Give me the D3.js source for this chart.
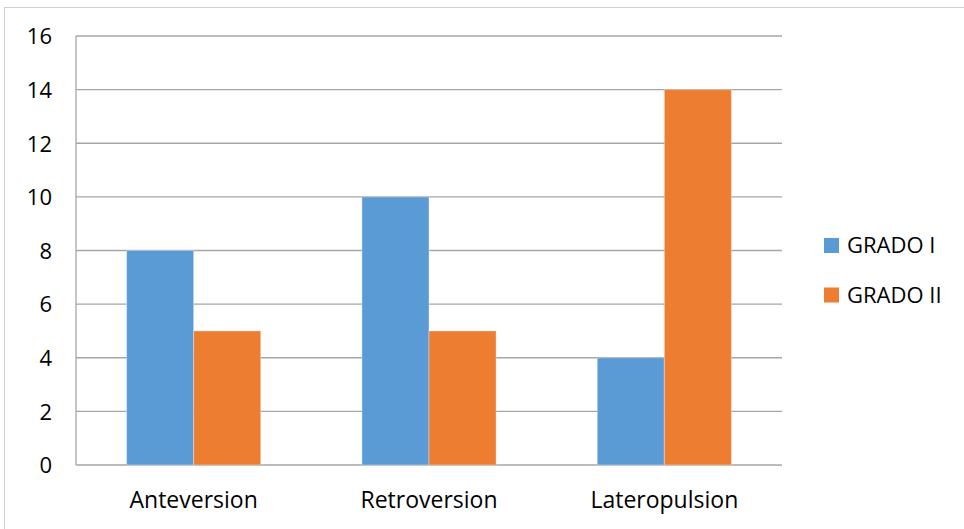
<!DOCTYPE html>
<html>
<head>
<meta charset="utf-8">
<script src="https://cdn.jsdelivr.net/npm/d3@7"></script>
<style>
  body { margin: 0; background: #fff; }
  text { font-family: "Open Sans", Lato, sans-serif; fill: #000; }
</style>
</head>
<body>
<script>
// data
var CATEGORIES = ["Anteversion", "Retroversion", "Lateropulsion"];
var SERIES = ["GRADO I", "GRADO II"];
var GRADO_I = [8, 10, 4];
var GRADO_II = [5, 5, 14];
var Y_TICKS = [0, 2, 4, 6, 8, 10, 12, 14, 16];
var COLORS = ["#5B9BD5", "#ED7D31"];

var MARGINS = {top: 36, bottom: 64, left: 76, right: 182};
var W = 964, H = 529;

var svg = d3.select("body").append("svg");
svg.attr("width", W).attr("height", H);

// outer frame of the chart area
svg.append("rect")
    .attr("x", 4.5).attr("y", 7.5)
    .attr("width", W + 10).attr("height", H)
    .attr("fill", "none").attr("stroke", "#d0d0d0").attr("stroke-width", 1);

var xScale = d3.scaleBand().domain(CATEGORIES)
    .range([MARGINS.left, W - MARGINS.right])
    .paddingInner(0.43).paddingOuter(0.215);
var subScale = d3.scaleBand().domain(SERIES).range([0, xScale.bandwidth()]);
var yScale = d3.scaleLinear().domain([0, 16]).range([H - MARGINS.bottom, MARGINS.top]);

// gridlines
svg.append("g").selectAll("line").data(Y_TICKS).enter().append("line")
    .attr("x1", MARGINS.left).attr("x2", W - MARGINS.right)
    .attr("y1", function (d) { return yScale(d); })
    .attr("y2", function (d) { return yScale(d); })
    .attr("stroke", "#a6a6a6").attr("stroke-width", 1.3);

// left axis line
svg.append("line")
    .attr("x1", MARGINS.left).attr("x2", MARGINS.left)
    .attr("y1", yScale(16)).attr("y2", yScale(0))
    .attr("stroke", "#a6a6a6").attr("stroke-width", 1.3);

// y tick labels
svg.append("g").selectAll("text").data(Y_TICKS).enter().append("text")
    .attr("x", 52)
    .attr("y", function (d) { return yScale(d); })
    .attr("dy", "0.38em")
    .attr("text-anchor", "end")
    .attr("font-size", 22)
    .text(function (d) { return d; });

// bars
var rows = CATEGORIES.map(function (c, i) {
    return {cat: c, values: [GRADO_I[i], GRADO_II[i]]};
});
var groups = svg.append("g").selectAll("g").data(rows).enter().append("g")
    .attr("transform", function (d) { return "translate(" + xScale(d.cat) + ",0)"; });
groups.selectAll("rect").data(function (d) { return d.values; }).enter().append("rect")
    .attr("x", function (d, i) { return subScale(SERIES[i]); })
    .attr("y", function (d) { return yScale(d); })
    .attr("width", subScale.bandwidth())
    .attr("height", function (d) { return yScale(0) - yScale(d); })
    .attr("fill", function (d, i) { return COLORS[i]; })
    .attr("stroke", "#fff").attr("stroke-opacity", 0.35).attr("stroke-width", 1);

// category labels
svg.append("g").selectAll("text").data(CATEGORIES).enter().append("text")
    .attr("x", function (d) { return xScale(d) + xScale.bandwidth() / 2; })
    .attr("y", 508)
    .attr("text-anchor", "middle")
    .attr("font-size", 23)
    .text(function (d) { return d; });

// legend
var legend = svg.append("g").selectAll("g").data(SERIES).enter().append("g")
    .attr("transform", function (d, i) { return "translate(824," + (238 + i * 49.5) + ")"; });
legend.append("rect").attr("width", 15).attr("height", 15)
    .attr("fill", function (d, i) { return COLORS[i]; });
legend.append("text").attr("x", 23).attr("y", 15)
    .attr("font-size", 22)
    .text(function (d) { return d; });
</script>
</body>
</html>
